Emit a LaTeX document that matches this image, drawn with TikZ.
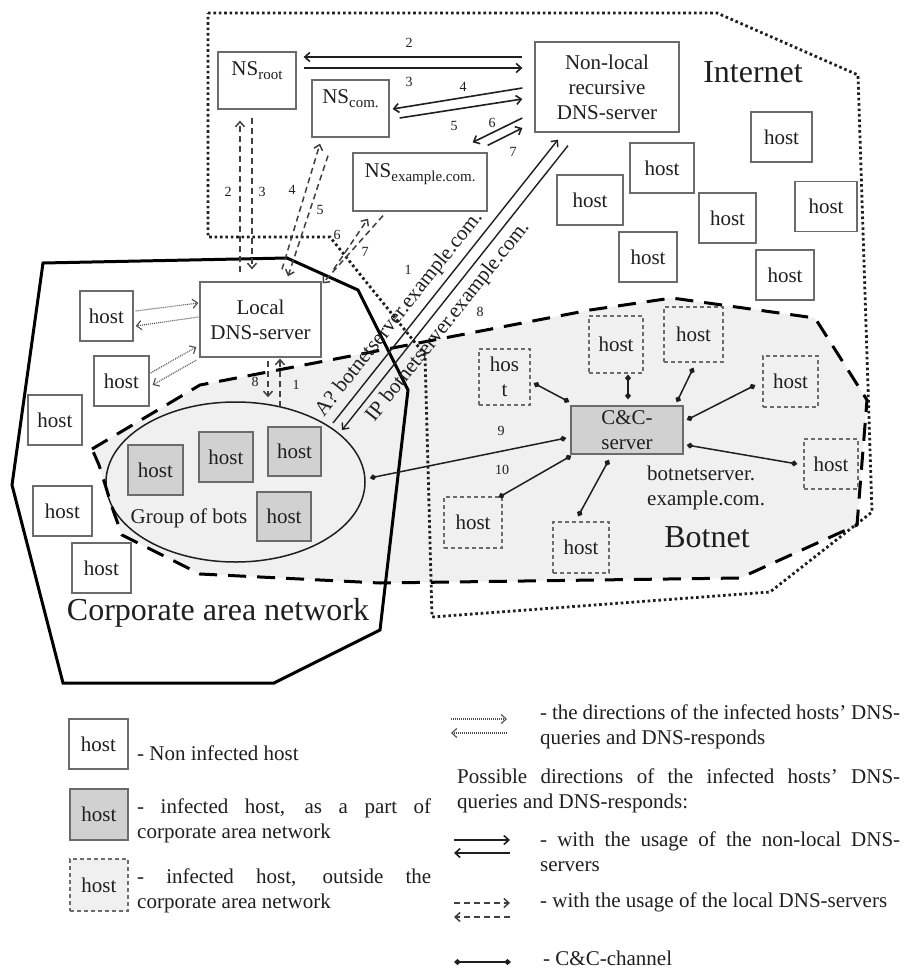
\documentclass[tikz,border=0pt]{standalone}
\usepackage{fontspec}
\setmainfont{Liberation Serif}
\usetikzlibrary{arrows.meta,shapes.geometric}

\definecolor{botfill}{gray}{0.94}
\definecolor{infill}{gray}{0.82}
\definecolor{boxline}{gray}{0.42}
\definecolor{inkcol}{gray}{0.12}

% lowered subscript for the name-server labels
\newcommand{\nssub}[1]{\raisebox{-4pt}{\fontsize{15}{15}\selectfont #1}}

\tikzset{
  every node/.style={text=inkcol},
  boxtxt/.style={font=\fontsize{21}{25}\selectfont},
  bigtxt/.style={font=\fontsize{32}{36}\selectfont, inner sep=0pt},
  numlbl/.style={font=\fontsize{14}{16}\selectfont, inner sep=0pt},
  legtxt/.style={font=\fontsize{21}{25}\selectfont, inner sep=0pt},
  hostbox/.style={draw=boxline, line width=1.3pt, fill=white, minimum width=56pt,
    minimum height=50pt, inner sep=0pt, boxtxt},
  bothost/.style={hostbox, fill=infill},
  nethost/.style={hostbox, draw=gray!85!black, line width=1.1pt,
    dash pattern=on 4pt off 3pt, fill=botfill},
  serverbox/.style={hostbox, align=center},
  nsbox/.style={hostbox, text height=15pt, text depth=24pt},
  qarrow/.style={draw=black!70, line width=1.1pt, dash pattern=on 1pt off 1pt, ->},
  nlarrow/.style={draw=inkcol, line width=1.6pt, ->},
  locarrow/.style={draw=black!75, line width=1.5pt, dash pattern=on 6pt off 4pt, ->},
  ccline/.style={draw=inkcol, line width=1.5pt,
    {Diamond[length=7pt,width=6pt]}-{Diamond[length=7pt,width=6pt]}},
}

\begin{document}
\begin{tikzpicture}[x=1pt,y=-1pt,>={Straight Barb[length=5pt,width=9pt]},line join=miter]
\useasboundingbox (0,0) rectangle (913,971);
\fill[white] (0,0) rectangle (913,971);

% ---- botnet area (fill) and group of bots ----
\fill[botfill] (92,449) -- (200,385) -- (590,310) -- (672,298) -- (815,318) -- (867,400)
  -- (857,525) -- (740,578) -- (380,583) -- (200,574) -- (122,535) -- (113,510)
  -- (99,465) -- cycle;
\node[ellipse, draw=inkcol, line width=1.5pt, fill=botfill, minimum width=259pt,
  minimum height=160pt, inner sep=0pt] (gob) at (235.5,482) {};

% ---- Internet boundary ----
\draw[inkcol, line width=2.8pt, dash pattern=on 2.6pt off 2.8pt]
  (208,13) -- (717,13) -- (858,75) -- (872,512) -- (770,592) -- (432,617)
  -- (425,355) -- (330,237) -- (208,237) -- cycle;

% ---- corporate area network boundary ----
\draw[black, line width=3pt] (43,263) -- (287,258) -- (358,290) -- (408,390)
  -- (380,630) -- (274,683) -- (63,683) -- (12,485) -- cycle;

% ---- botnet boundary ----
\draw[black, line width=3pt, dash pattern=on 18pt off 11pt]
  (92,449) -- (200,385) -- (590,310) -- (672,298) -- (815,318) -- (867,400)
  -- (857,525) -- (740,578) -- (380,583) -- (200,574) -- (122,535) -- (113,510)
  -- (99,465) -- cycle;

% ---- servers ----
\node[nsbox, minimum width=78pt, minimum height=57pt] (root) at (257,80.5) {NS\nssub{root}};
\node[nsbox, minimum width=77pt, minimum height=57pt] (com) at (350.5,108.5) {NS\nssub{com.}};
\node[nsbox, minimum width=134pt, minimum height=58pt] (exm) at (420,182) {NS\nssub{example.com.}};
\node[serverbox, minimum width=144pt, minimum height=90pt] (nl) at (607,87) {Non-local\\recursive\\DNS-server};
\node[serverbox, minimum width=121pt, minimum height=75pt] (dns) at (260.5,319.5) {Local\\DNS-server};
\node[serverbox, fill=infill, minimum width=112pt, minimum height=48pt] (cc) at (627,430) {C\&C-\\server};

% ---- hosts in the Internet ----
\node[hostbox, minimum width=61pt] (ih1) at (781.5,137) {host};
\node[hostbox, minimum width=64pt] (ih2) at (662,168) {host};
\node[hostbox, minimum width=66pt] (ih3) at (590,200) {host};
\node[hostbox, minimum width=57pt] (ih4) at (727.5,218) {host};
\node[hostbox, minimum width=62pt] (ih5) at (826,206.5) {host};
\node[hostbox, minimum width=58pt] (ih6) at (648,257) {host};
\node[hostbox, minimum width=58pt] (ih7) at (785,275) {host};

% ---- hosts of the corporate network ----
\node[hostbox, minimum width=53pt] (ch1) at (106.5,316) {host};
\node[hostbox, minimum width=55pt] (ch2) at (121.5,381) {host};
\node[hostbox, minimum width=54pt] (ch3) at (55,420) {host};
\node[hostbox, minimum width=59pt] (ch4) at (62.5,511) {host};
\node[hostbox, minimum width=59pt] (ch5) at (101.5,568) {host};

% ---- infected hosts of the corporate network ----
\node[bothost, minimum width=55pt] (b1) at (155.5,470) {host};
\node[bothost, minimum width=54pt] (b2) at (226,457) {host};
\node[bothost, minimum width=53pt, minimum height=49pt] (b3) at (294.5,451.5) {host};
\node[bothost, minimum width=54pt, minimum height=49pt] (b4) at (284,516.5) {host};

% ---- botnet hosts ----
\node[nethost, minimum width=51pt, minimum height=56pt, align=center] (n1) at (504.5,377) {hos\\t};
\node[nethost, minimum width=54pt, minimum height=57pt] (n2) at (616,344.5) {host};
\node[nethost, minimum width=59pt, minimum height=55pt] (n3) at (693.5,334.5) {host};
\node[nethost, minimum width=55pt, minimum height=51pt] (n4) at (790.5,381.5) {host};
\node[nethost, minimum width=54pt, minimum height=50pt] (n5) at (831,464) {host};
\node[nethost, minimum width=58pt, minimum height=51pt] (n6) at (473,522.5) {host};
\node[nethost, minimum width=56pt, minimum height=51pt] (n7) at (581,547.5) {host};

% ---- area titles and captions ----
\node[bigtxt] (tinternet) at (753,72) {Internet};
\node[bigtxt] (tbotnet) at (707,537) {Botnet};
\node[bigtxt] (tcorp) at (218,613) {Corporate area network};
\node[boxtxt, inner sep=0pt] (tgroup) at (189,518) {Group of bots};
\node[boxtxt, inner sep=0pt, align=left, anchor=west] (tccname) at (647,488) {botnetserver.\\example.com.};

% ---- hosts <-> local DNS-server queries ----
\draw[qarrow] ([shift={(2,-5)}]ch1.east) -- ([shift={(-1,-16.5)}]dns.west);
\draw[qarrow] ([shift={(-1,-2.5)}]dns.west) -- ([shift={(2,10)}]ch1.east);
\draw[qarrow] ([shift={(1,-8)}]ch2.east) -- ([shift={(-3,27.5)}]dns.west);
\draw[qarrow] ([shift={(-3,40.5)}]dns.west) -- ([shift={(3,4)}]ch2.east);

% ---- local DNS-server <-> name servers ----
\draw[locarrow] ([shift={(-20.5,-9)}]dns.north) -- ([shift={(-17,11)}]root.south);
\draw[locarrow] ([shift={(-5,8)}]root.south) -- ([shift={(-8.5,-12)}]dns.north);
\draw[locarrow] ([shift={(21.5,-12)}]dns.north) -- ([shift={(-30.5,6)}]com.south);
\draw[locarrow] ([shift={(-22.5,18)}]com.south) -- ([shift={(27.5,-5)}]dns.north);
\draw[locarrow] ([shift={(12,-12)}]dns.north east) -- ([shift={(-52,7)}]exm.south);
\draw[locarrow] ([shift={(-37,4)}]exm.south) -- ([shift={(1,2)}]dns.north east);
\node[numlbl] (d2) at (228,192) {2};
\node[numlbl] (d3) at (262,192) {3};
\node[numlbl] (d4) at (292,190) {4};
\node[numlbl] (d5) at (320,210) {5};
\node[numlbl] (d6) at (337,235) {6};
\node[numlbl] (d7) at (365,252) {7};

% ---- local DNS-server <-> group of bots ----
\draw[locarrow] ([shift={(7.5,3)}]dns.south) -- ([shift={(32.5,-4)}]gob.north);
\draw[locarrow] ([shift={(44.5,6)}]gob.north) -- ([shift={(19.5,1)}]dns.south);
\node[numlbl] (g8) at (255,382) {8};
\node[numlbl] (g1) at (296,385) {1};

% ---- non-local DNS-server <-> name servers ----
\draw[nlarrow] ([shift={(-12,-30)}]nl.west) -- ([shift={(7,-23.5)}]root.east);
\draw[nlarrow] ([shift={(7,-12.5)}]root.east) -- ([shift={(-12,-19)}]nl.west);
\draw[nlarrow] ([shift={(-12,1)}]nl.west) -- ([shift={(3,0.5)}]com.east);
\draw[nlarrow] ([shift={(10,9.5)}]com.east) -- ([shift={(-12,12)}]nl.west);
\draw[nlarrow] ([shift={(-12,31)}]nl.west) -- ([shift={(-15,-10)}]exm.north east);
\draw[nlarrow] ([shift={(0,-7)}]exm.north east) -- ([shift={(-12,41)}]nl.west);
\node[numlbl] (s2) at (409,43) {2};
\node[numlbl] (s3) at (409,82) {3};
\node[numlbl] (s4) at (463,87) {4};
\node[numlbl] (s5) at (454,126) {5};
\node[numlbl] (s6) at (492,123) {6};
\node[numlbl] (s7) at (513,152) {7};

% ---- bots <-> non-local DNS-server ----
\draw[nlarrow, line width=1.4pt] ([shift={(97.5,-59)}]gob.center) -- ([shift={(-49,7)}]nl.south);
\draw[nlarrow, line width=1.4pt] ([shift={(-39,13)}]nl.south) -- ([shift={(106.5,-52)}]gob.center);
\path ([shift={(97.5,-59)}]gob.center) -- ([shift={(-49,7)}]nl.south)
  node[boxtxt, pos=0.35, sloped, above, inner sep=6pt] (qtxt) {A? botnetserver.example.com.};
\path ([shift={(106.5,-52)}]gob.center) -- ([shift={(-39,13)}]nl.south)
  node[boxtxt, pos=0.415, sloped, below, inner sep=6pt] (rtxt) {IP botnetserver.example.com.};
\node[numlbl] (a1) at (408,270) {1};
\node[numlbl] (a8) at (480,312) {8};

% ---- C&C channels ----
\draw[ccline] ([shift={(-1,-28)}]cc.west) -- ([shift={(3,6)}]n1.east);
\draw[ccline] ([shift={(1,-6)}]cc.north) -- ([shift={(12,1)}]n2.south);
\draw[ccline] ([shift={(-7,-3)}]cc.north east) -- ([shift={(0,5)}]n3.south);
\draw[ccline] ([shift={(3,-10)}]cc.east) -- ([shift={(-7,3.5)}]n4.west);
\draw[ccline] ([shift={(3,15)}]cc.east) -- ([shift={(-6,0)}]n5.west);
\draw[ccline] ([shift={(1,1)}]cc.south west) -- ([shift={(-4,1)}]n6.north east);
\draw[ccline] ([shift={(-18,5)}]cc.south) -- ([shift={(-3,-5)}]n7.north);
\draw[ccline] ([shift={(-4,8)}]cc.west) -- ([shift={(4,-4)}]gob.east);
\node[numlbl] (c9) at (501,431) {9};
\node[numlbl] (c10) at (502,470) {10};

% ---- legend ----
\node[hostbox, minimum width=59pt] (lg1) at (98.5,744) {host};
\node[bothost, minimum width=58pt, minimum height=51pt] (lg2) at (99,814.5) {host};
\node[nethost, minimum width=58pt, minimum height=52pt] (lg3) at (99,885) {host};
\node[legtxt, anchor=west] (lt1) at (137,753) {- Non infected host};
\node[legtxt, anchor=west, align=left] (lt2) at (137,820.5)
  {\makebox[294pt][s]{- infected host, as a part of}\\corporate area network};
\node[legtxt, anchor=west, align=left] (lt3) at (137,891)
  {\makebox[294pt][s]{- infected host, outside the}\\corporate area network};

\coordinate (q1a) at (451,719); \coordinate (q1b) at (507,719);
\coordinate (q2a) at (507,733); \coordinate (q2b) at (451,733);
\coordinate (s1a) at (454,840); \coordinate (s1b) at (510,840);
\coordinate (s2a) at (510,853); \coordinate (s2b) at (454,853);
\coordinate (l1a) at (454,903); \coordinate (l1b) at (510,903);
\coordinate (l2a) at (510,917); \coordinate (l2b) at (454,917);
\coordinate (k1a) at (454,962); \coordinate (k1b) at (511,962);
\draw[qarrow] (q1a) -- (q1b);
\draw[qarrow] (q2a) -- (q2b);
\draw[nlarrow] (s1a) -- (s1b);
\draw[nlarrow] (s2a) -- (s2b);
\draw[locarrow] (l1a) -- (l1b);
\draw[locarrow] (l2a) -- (l2b);
\draw[ccline] (k1a) -- (k1b);

\node[legtxt, anchor=west, align=left] (lt4) at (540,726.5)
  {\makebox[360pt][s]{- the directions of the infected hosts' DNS-}\\queries and DNS-responds};
\node[legtxt, anchor=west, align=left] (lt5) at (457,791)
  {\makebox[443pt][s]{Possible directions of the infected hosts' DNS-}\\queries and DNS-responds:};
\node[legtxt, anchor=west, align=left] (lt6) at (540,852)
  {\makebox[360pt][s]{- with the usage of the non-local DNS-}\\servers};
\node[legtxt, anchor=west] (lt7) at (540,902) {- with the usage of the local DNS-servers};
\node[legtxt, anchor=west] (lt8) at (543,958) {- C\&C-channel};
\end{tikzpicture}
\end{document}
